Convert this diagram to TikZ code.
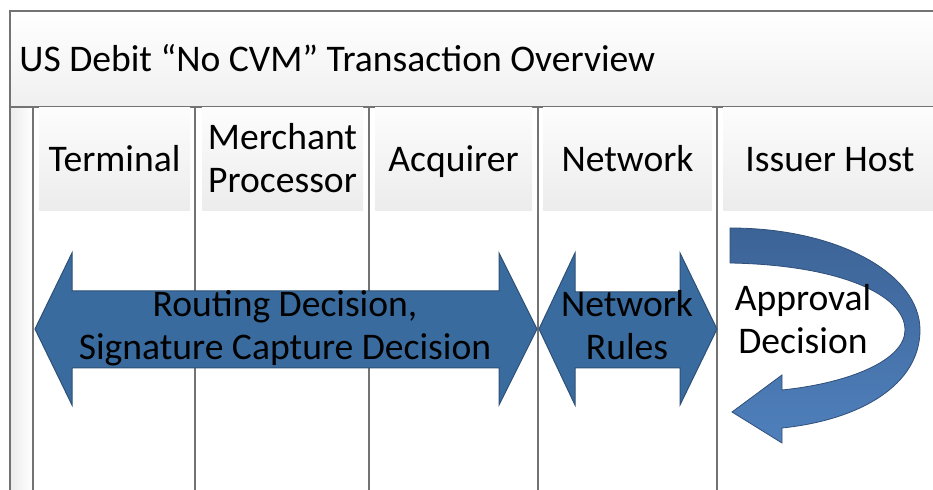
\documentclass[tikz,border=0pt]{standalone}
\usepackage{fontspec}
\setmainfont{Carlito}
\definecolor{arrowblue}{HTML}{3A6B9E}
\definecolor{curvetop}{HTML}{3C6396}
\definecolor{curvebot}{HTML}{4F80BC}
\begin{document}
\begin{tikzpicture}[x=0.5pt,y=-0.5pt,
	lane/.style={draw=black!55,line width=0.8pt},
	headbox/.style={top color=gray!2,bottom color=gray!15},
	label/.style={font=\fontsize{18.8}{21.5}\selectfont,align=center,inner sep=0pt},
	bigarrow/.style={fill=arrowblue,draw=arrowblue!75!black,line width=0.5pt}]
	\useasboundingbox (0,0) rectangle (933,490);
	%Khung tieu de
	\shade[top color=white,bottom color=gray!12] (10,11) rectangle (933,107);
	\shade[left color=gray!15,right color=white] (10,107) rectangle (33,490);
	\draw[lane] (933,11) -- (10,11) -- (10,490);
	\draw[lane] (10,107) -- (933,107);
	\node[label,anchor=west] (title) at (19,58) {US Debit “No CVM” Transaction Overview};
	%Cot
	\foreach \x in {33,195,369,538,717}
		\draw[lane] (\x,107) -- (\x,490);
	%O tieu de cot
	\shade[headbox] (39,108) rectangle (190,211);
	\shade[headbox] (202,108) rectangle (363,211);
	\shade[headbox] (375,108) rectangle (532,211);
	\shade[headbox] (543,108) rectangle (712,211);
	\shade[headbox] (723,108) rectangle (933,211);
	\node[label,anchor=base] (terminal) at (114.5,172) {Terminal};
	\node[label,anchor=base] (merchant) at (282.5,193) {Merchant\\Processor};
	\node[label,anchor=base] (acquirer) at (453.5,172) {Acquirer};
	\node[label,anchor=base] (network) at (627.5,172) {Network};
	\node[label,anchor=base] (issuer) at (830,172) {Issuer Host};
	%Mui ten 1
	\draw[bigarrow] (35,329) -- (72,253) -- (72,291) -- (499,291) -- (499,253) -- (537,329)
		-- (499,405) -- (499,368) -- (72,368) -- (72,405) -- cycle;
	\node[label,anchor=base] (routing) at (285,360) {Routing Decision,\\Signature Capture Decision};
	%Mui ten 2
	\draw[bigarrow] (539,329) -- (575,253) -- (575,292) -- (680,292) -- (680,253) -- (717,329)
		-- (680,405) -- (680,368) -- (575,368) -- (575,405) -- cycle;
	\node[label,anchor=base] (rules) at (627,360) {Network\\Rules};
	%Mui ten cong
	\shade[top color=curvetop,bottom color=curvebot,draw=curvetop!80!black,line width=0.4pt]
		(730,228) .. controls (840,228) and (920,275) .. (920,330)
		.. controls (920,385) and (860,420) .. (782,428)
		-- (782,443) -- (732,412) -- (782,375) -- (782,390)
		.. controls (850,383) and (905,360) .. (905,330)
		.. controls (905,295) and (840,265) .. (730,263) -- cycle;
	\node[label,anchor=base] (approval) at (803,354) {Approval\\Decision};
\end{tikzpicture}
\end{document}
